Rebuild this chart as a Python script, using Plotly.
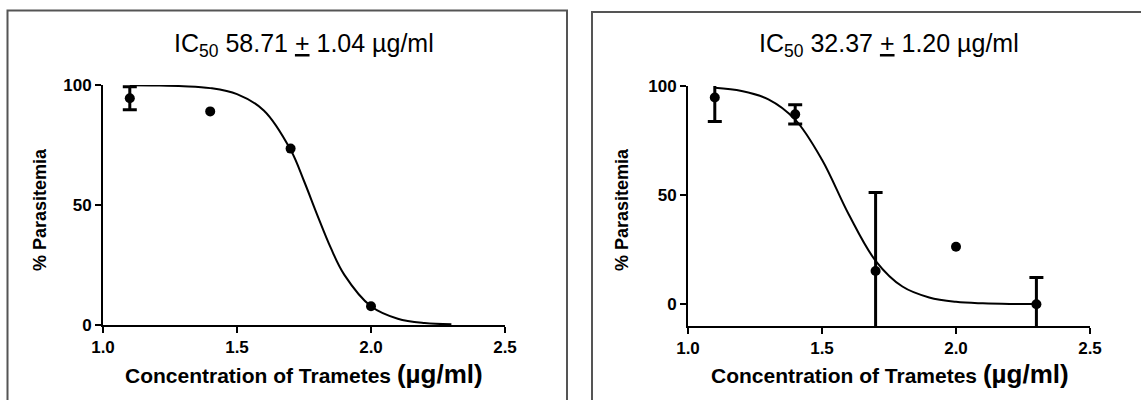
import plotly.graph_objects as go

# ---------------- data ----------------
left_x = [1.1, 1.4, 1.7, 2.0]
left_y = [94.5, 89.0, 73.5, 7.8]
left_err = [4.8, 0, 0, 0]
left_fit_x = [1.1, 1.2, 1.3, 1.4, 1.5, 1.6, 1.7, 1.75, 1.8, 1.85, 1.9, 2.0, 2.1, 2.2, 2.3]
left_fit_y = [99.9, 99.8, 99.5, 98.7, 96.2, 89.4, 73.0, 60.0, 45.7, 32.1, 21.0, 7.8, 2.6, 0.8, 0.3]
left_title = "IC<sub>50</sub> 58.71 <u>+</u> 1.04 µg/ml"

right_x = [1.1, 1.4, 1.7, 2.0, 2.3]
right_y = [94.7, 87.0, 15.2, 26.3, 0.0]
right_err = [11.0, 4.4, 36.0, 0, 12.2]
right_fit_x = [1.1, 1.2, 1.3, 1.4, 1.5, 1.6, 1.7, 1.8, 1.9, 2.0, 2.1, 2.2, 2.3]
right_fit_y = [99.2, 97.7, 93.9, 84.6, 66.2, 41.1, 19.9, 8.1, 3.1, 1.1, 0.4, 0.1, 0.05]
right_title = "IC<sub>50</sub> 32.37 <u>+</u> 1.20 µg/ml"

x_ticks = [1.0, 1.5, 2.0, 2.5]
y_ticks = [0, 50, 100]
y_title = "% Parasitemia"
x_title = "Concentration of Trametes <span style='font-size:26px'>(µg/ml)</span>"

W, H = 1141, 400
FONT = "Liberation Sans, Arial, sans-serif"

fig = go.Figure()

def add_panel(xs, ys, errs, fx, fy, xa, ya):
    fig.add_trace(go.Scatter(
        x=fx, y=fy, mode="lines", line=dict(color="black", width=2, shape="spline"),
        xaxis=xa, yaxis=ya, showlegend=False, cliponaxis=False, hoverinfo="skip"))
    # points that carry an error bar
    ex = [x for x, e in zip(xs, errs) if e]
    ey = [y for y, e in zip(ys, errs) if e]
    ee = [e for e in errs if e]
    fig.add_trace(go.Scatter(
        x=ex, y=ey, mode="markers", marker=dict(color="black", size=10),
        error_y=dict(type="data", array=ee, symmetric=True, color="black",
                     thickness=3, width=7),
        xaxis=xa, yaxis=ya, showlegend=False))
    # points without a visible error bar
    nx = [x for x, e in zip(xs, errs) if not e]
    ny = [y for y, e in zip(ys, errs) if not e]
    fig.add_trace(go.Scatter(
        x=nx, y=ny, mode="markers", marker=dict(color="black", size=10),
        xaxis=xa, yaxis=ya, showlegend=False))

add_panel(left_x, left_y, left_err, left_fit_x, left_fit_y, "x", "y")
add_panel(right_x, right_y, right_err, right_fit_x, right_fit_y, "x2", "y2")

ax_common = dict(showgrid=False, zeroline=False, showline=True, linecolor="black",
                 linewidth=2, ticks="outside", ticklen=6, tickwidth=2, tickcolor="black",
                 tickfont=dict(family=FONT, size=17, color="black", weight="bold"),
                 mirror=False, fixedrange=True, automargin=False)

def px_x(p):
    return p / W

def px_y(p):
    return 1 - p / H

fig.update_layout(
    width=W, height=H, margin=dict(l=0, r=0, t=0, b=0, autoexpand=False),
    paper_bgcolor="white", plot_bgcolor="white",
    xaxis=dict(domain=[px_x(103), px_x(505)], range=[1.0, 2.5], tickvals=x_ticks,
               tickformat=".1f", anchor="y", **ax_common),
    yaxis=dict(domain=[px_y(325), px_y(85)], range=[0, 100], tickvals=y_ticks,
               anchor="x", **ax_common),
    xaxis2=dict(domain=[px_x(688), px_x(1090)], range=[1.0, 2.5], tickvals=x_ticks,
                tickformat=".1f", anchor="y2", **ax_common),
    yaxis2=dict(domain=[px_y(326), px_y(86)], range=[-10, 100], tickvals=y_ticks,
                anchor="x2", **ax_common),
)

# panel borders
border = dict(color="#555555", width=2)
fig.add_shape(type="rect", xref="paper", yref="paper",
              x0=px_x(7.5), x1=px_x(567), y0=px_y(410), y1=px_y(10.5), line=border)
fig.add_shape(type="rect", xref="paper", yref="paper",
              x0=px_x(592), x1=px_x(1160), y0=px_y(410), y1=px_y(12), line=border)

ann = []
for title, cx in [(left_title, 304), (right_title, 889)]:
    ann.append(dict(text=title, x=px_x(cx), y=px_y(45), xref="paper", yref="paper",
                    xanchor="center", yanchor="middle", showarrow=False,
                    font=dict(family=FONT, size=25, color="black")))
for cx in [304, 890]:
    ann.append(dict(text=x_title, x=px_x(cx), y=px_y(374), xref="paper", yref="paper",
                    xanchor="center", yanchor="middle", showarrow=False,
                    font=dict(family=FONT, size=21, color="black", weight="bold")))
for cx in [40, 622]:
    ann.append(dict(text=y_title, x=px_x(cx), y=px_y(210), xref="paper", yref="paper",
                    xanchor="center", yanchor="middle", showarrow=False, textangle=-90,
                    font=dict(family=FONT, size=18, color="black", weight="bold")))
fig.update_layout(annotations=ann)

fig.write_html("out.html")
